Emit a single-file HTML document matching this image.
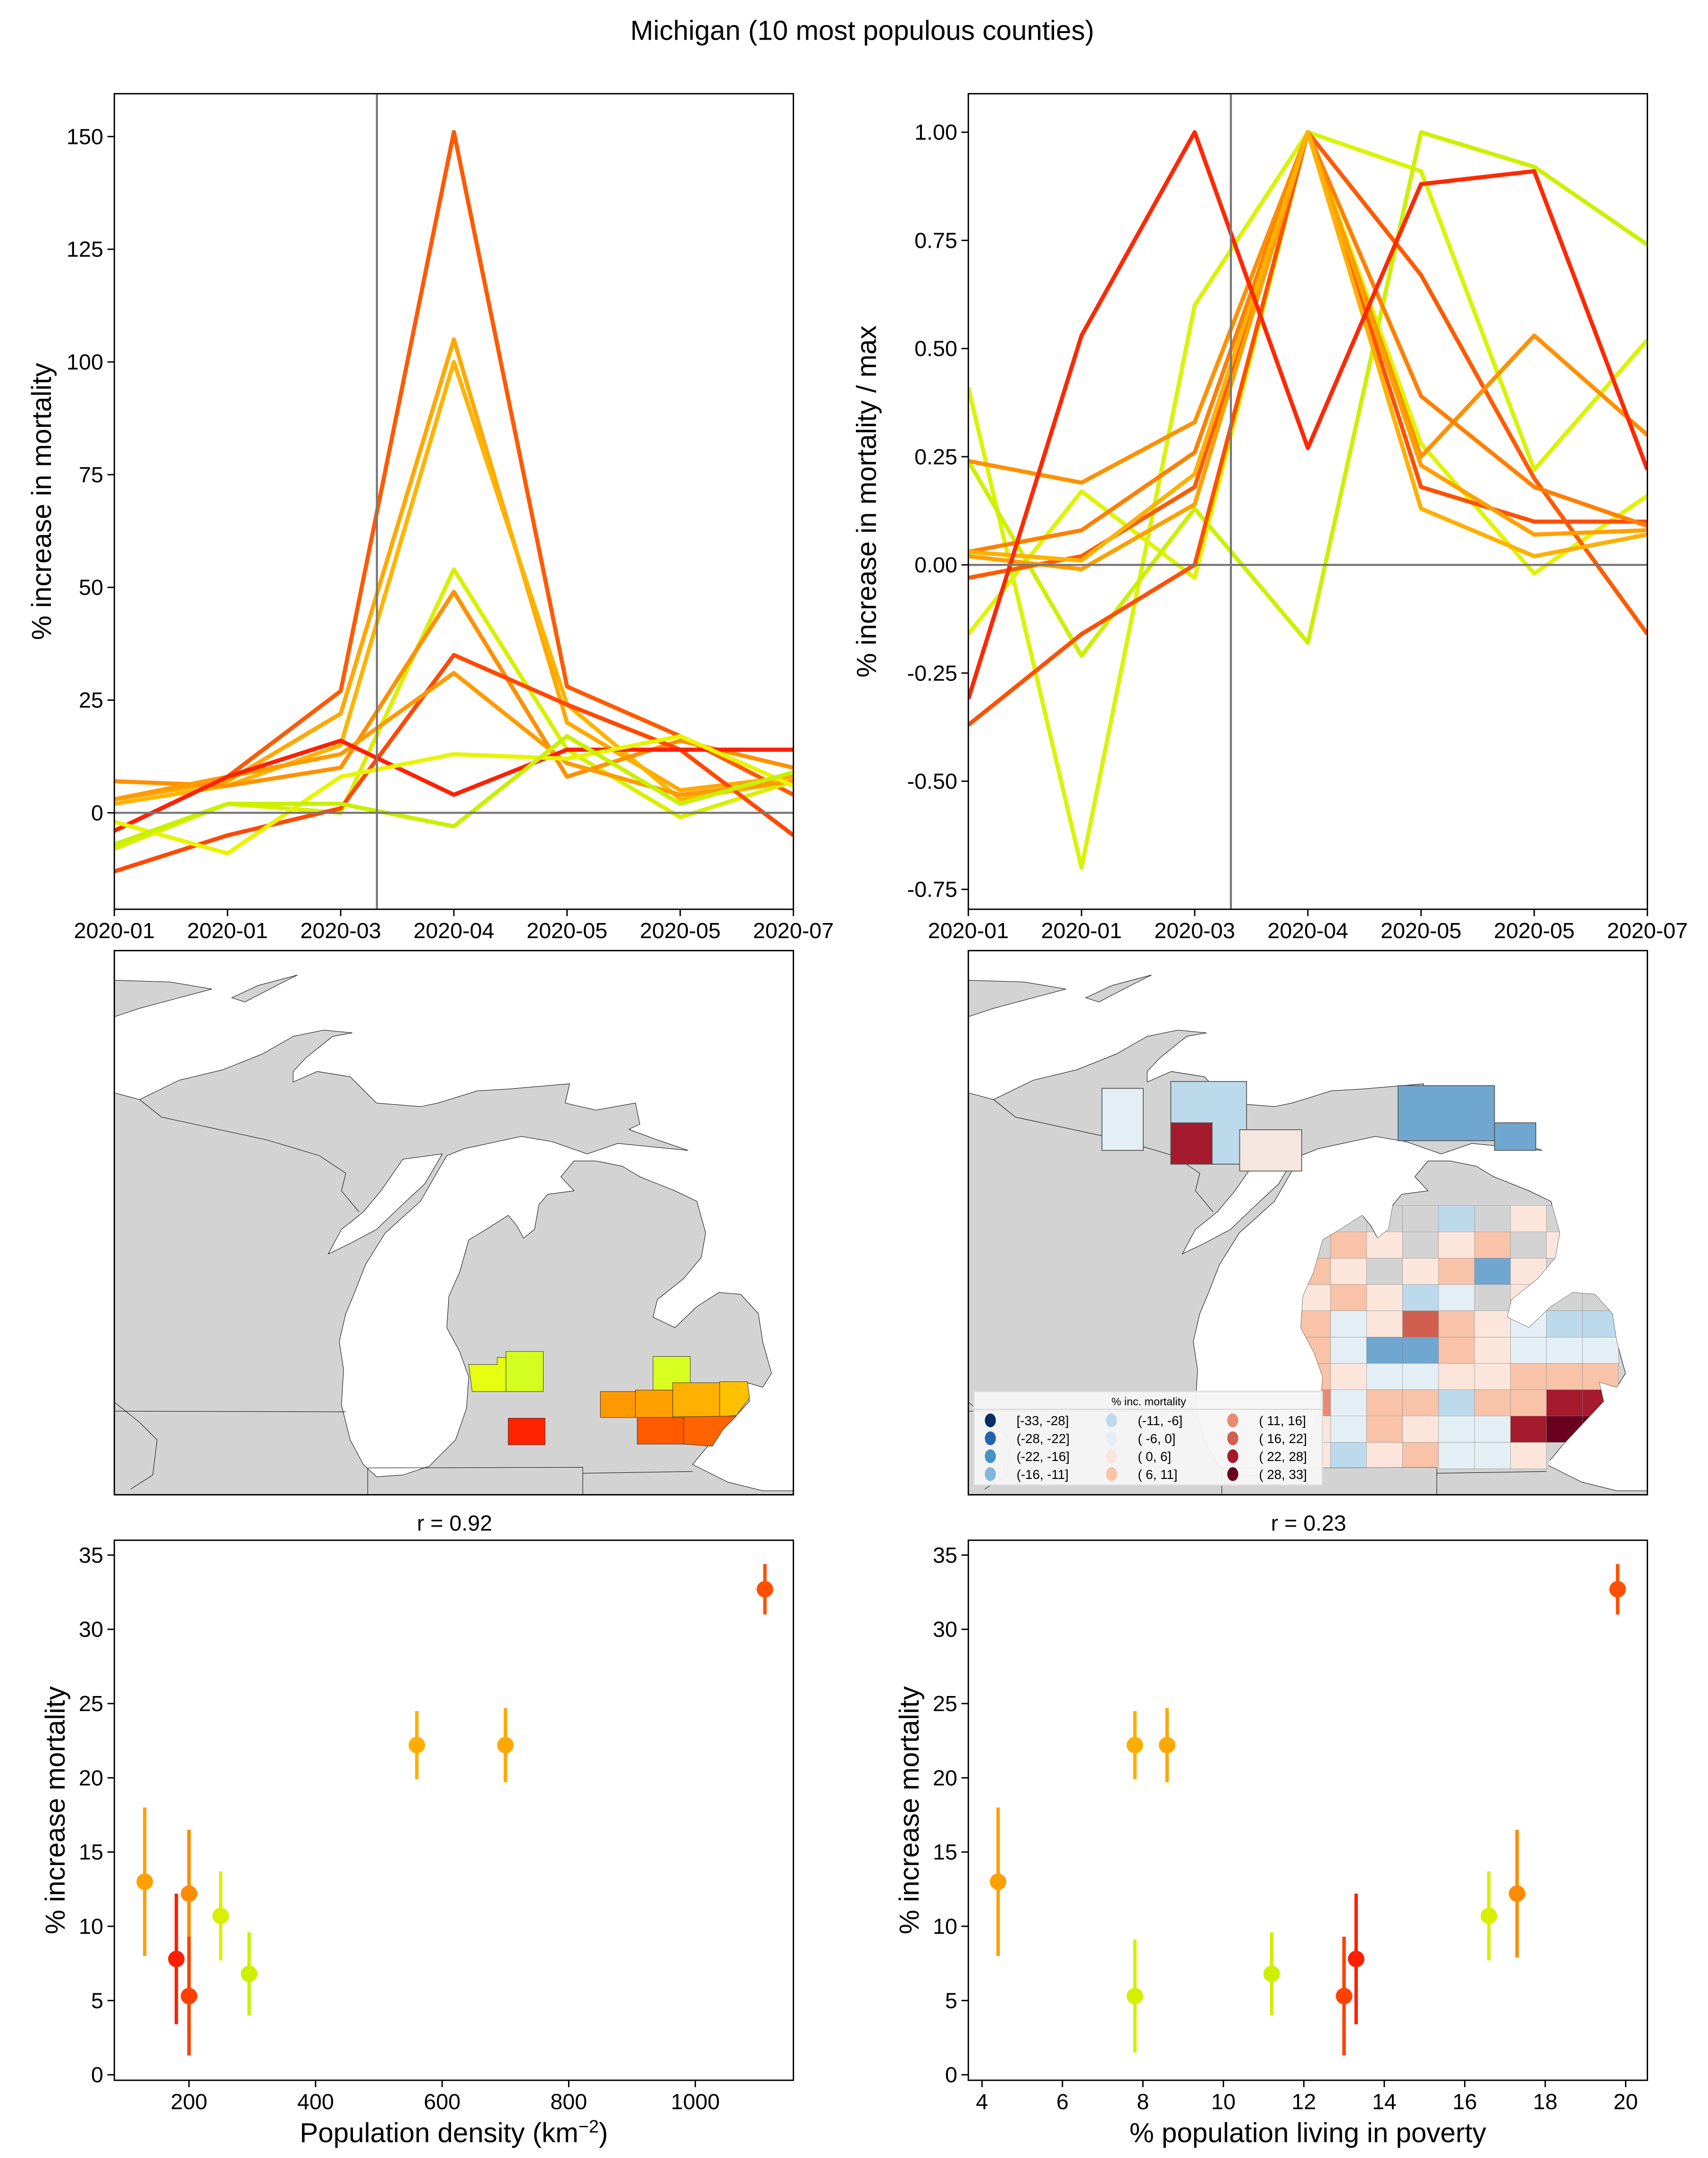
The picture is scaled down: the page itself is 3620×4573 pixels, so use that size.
<!DOCTYPE html>
<html><head><meta charset="utf-8">
<style>
html,body{margin:0;padding:0;background:#fff;}
svg{display:block;font-family:"Liberation Sans","DejaVu Sans",sans-serif;}
</style></head>
<body>
<svg id="root" width="3620" height="4573" viewBox="0 0 1240 1566.4" xmlns="http://www.w3.org/2000/svg">
<rect width="1240" height="1566.4" fill="#fff"/>
<text x="626" y="29" font-size="20" text-anchor="middle">Michigan (10 most populous counties)</text>
<g id="tl"></g>
<g id="tr"></g>
<g id="mapL"></g>
<g id="mapR"></g>
<g id="bl"></g>
<g id="br"></g>
</svg>
<script>
// ---------- data ----------
const dateLabels = ["2020-01","2020-01","2020-03","2020-04","2020-05","2020-05","2020-07"];
const seriesColors = ["#ff5a00","#ffa800","#ffb400","#d8f000","#ff9000","#ff4800","#ff9a00","#ff2000","#e8f400","#c8f000"];
const s1 = [-4, 8, 27, 151, 28, 17, 4];
const s2 = [3, 7, 22, 105, 20, 5, 8];
const s3 = [2, 6, 15, 100, 24, 3, 7];
const s4 = [-8, 2, 0, 54, 14, -1, 7];
const s5 = [7, 6, 10, 49, 8, 16, 10];
const s6 = [-13, -5, 1, 35, 24, 14, -5];
const s7 = [3, 8, 13, 31, 11, 4, 7];
const s8 = [-4, 8, 16, 4, 14, 14, 14];
const s9 = [-2, -9, 8, 13, 12, 17, 6];
const s10 = [-7, 2, 2, -3, 17, 2, 9];
const pctSeries = [s1,s2,s3,s4,s5,s6,s7,s8,s9,s10];
const pctTicks = [0,25,50,75,100,125,150];

const normColors = ["#d8f400","#e0f400","#ccf000","#ff5000","#ff5a00","#ff9000","#ff8000","#ffa000","#ffb000","#ff2800"];
const n1 = [0.41, -0.70, 0.60, 1.0, 0.91, 0.22, 0.52];
const n2 = [-0.16, 0.17, -0.03, 1.0, 0.28, -0.02, 0.16];
const n3 = [0.24, -0.21, 0.13, -0.18, 1.0, 0.92, 0.74];
const n4 = [-0.37, -0.16, 0.0, 1.0, 0.18, 0.10, 0.10];
const n5 = [-0.03, 0.02, 0.18, 1.0, 0.67, 0.20, -0.16];
const n6 = [0.24, 0.19, 0.33, 1.0, 0.25, 0.53, 0.30];
const n7 = [0.03, 0.08, 0.26, 1.0, 0.39, 0.18, 0.09];
const n8 = [0.02, -0.01, 0.14, 1.0, 0.23, 0.07, 0.08];
const n9 = [0.03, 0.01, 0.21, 1.0, 0.13, 0.02, 0.07];
const n10 = [-0.31, 0.53, 1.0, 0.27, 0.88, 0.91, 0.22];
const normSeries = [n1,n2,n3,n4,n5,n6,n7,n8,n9,n10];
const normTicks = [-0.75,-0.5,-0.25,0,0.25,0.5,0.75,1.0];

const density = [130, 180, 200, 200, 200, 250, 295, 560, 700, 1110];
const poverty = [4.4, 13.3, 17.3, 7.8, 13.0, 16.6, 11.2, 7.8, 8.6, 19.8];
const increase = [13, 7.8, 12.2, 5.3, 5.3, 10.7, 6.8, 22.2, 22.2, 32.7];
const incErr = [5, 4.4, 4.3, 3.8, 4.0, 3.0, 2.8, 2.3, 2.5, 1.7];
const pointColors = ["#ffa000","#ff2000","#ff8c00","#d4f000","#ff4000","#d8f000","#ccf000","#ffae00","#ffa800","#ff5000"];
const incTicks = [0,5,10,15,20,25,30,35];
const densTicks = [200,400,600,800,1000];
const povTicks = [4,6,8,10,12,14,16,18,20];

// ---------- helpers ----------
const NS = "http://www.w3.org/2000/svg";
function mk(tag, attrs, parent){ const e=document.createElementNS(NS,tag); for(const k in attrs) e.setAttribute(k,attrs[k]); if(parent) parent.appendChild(e); return e; }
function txt(parent, x, y, s, size, anchor, extra){ const t=mk("text",Object.assign({x:x,y:y,"font-size":size,"text-anchor":anchor||"middle"},extra||{}),parent); t.textContent=s; return t; }

function frame(g, x0, y0, x1, y1){
  const r = mk("rect",{x:x0,y:y0,width:x1-x0,height:y1-y0,fill:"none",stroke:"#000","stroke-width":1},g);
  
  
}
function yTicks(g, ticks, ys, x0, fmt){
  ticks.forEach(v=>{
    const y=ys(v);
    const l=mk("line",{x1:x0-5,x2:x0,y1:y,y2:y,stroke:"#000"},g);
    
    
    const t=txt(g,x0-8,y+5.5,fmt(v),16,"end");
    
    
  });
}
function xTicks(g, ticks, xs, y1, labels){
  ticks.forEach((v,i)=>{
    const x=xs(v,i);
    const l=mk("line",{x1:x,x2:x,y1:y1,y2:y1+5,stroke:"#000"},g);
    
    
    const t=txt(g,x,y1+21,labels?labels[i]:String(v),16,"middle");
    
    
  });
}

// ---------- line charts ----------
function lineChart(id, x0, x1, y0, y1, vmin, vmax, ticks, fmt, series, colors, ylabel, ylx){
  const g=document.getElementById(id);
  const xs=i=>x0+(x1-x0)*i/(dateLabels.length-1);
  const ys=v=>y1-(v-vmin)/(vmax-vmin)*(y1-y0);
  const clip=mk("clipPath",{id:id+"clip"},g);
  mk("rect",{x:x0,y:y0,width:x1-x0,height:y1-y0},clip);
  const pg=mk("g",{"clip-path":"url(#"+id+"clip)"},g);
  series.forEach((s,k)=>{
    const p=mk("polyline",{points:s.map((v,i)=>xs(i)+","+ys(v)).join(" "),fill:"none",stroke:colors[k],"stroke-width":3,"stroke-linejoin":"round"},pg);
    
    
  });
  const hz=mk("line",{x1:x0,x2:x1,y1:ys(0),y2:ys(0),stroke:"#777","stroke-width":1.5},g);
  
  
  const vx=xs(2)+(xs(3)-xs(2))*0.32;
  const vl=mk("line",{x1:vx,x2:vx,y1:y0,y2:y1,stroke:"#777","stroke-width":1.5},g);
  
  
  frame(g,x0,y0,x1,y1);
  yTicks(g,ticks,ys,x0,fmt);
  xTicks(g,dateLabels,(v,i)=>xs(i),y1,dateLabels);
  const yl=txt(g,0,0,ylabel,20,"middle",{transform:"translate("+ylx+","+((y0+y1)/2)+") rotate(-90)"});
  
  
}
lineChart("tl",83,576,68,660,-21.4,159.5,pctTicks,v=>String(v),pctSeries,seriesColors,"% increase in mortality",37);
lineChart("tr",703,1196,68,660,-0.796,1.089,normTicks,v=>v.toFixed(2),normSeries,normColors,"% increase in mortality / max",636);

// ---------- scatter ----------
function scatter(id, x0,x1,y0,y1, xmin,xmax, xv, xt, xlabel, title, titleX){
  const g=document.getElementById(id);
  const xs=v=>x0+(v-xmin)/(xmax-xmin)*(x1-x0);
  const vmin=-0.37, vmax=36.0;
  const ys=v=>y1-(v-vmin)/(vmax-vmin)*(y1-y0);
  frame(g,x0,y0,x1,y1);
  xv.forEach((xvv,i)=>{
    const x=xs(xvv);
    const e=mk("line",{x1:x,x2:x,y1:ys(increase[i]-incErr[i]),y2:ys(increase[i]+incErr[i]),stroke:pointColors[i],"stroke-width":2.5},g);
    
    
    const c=mk("circle",{cx:x,cy:ys(increase[i]),r:6,fill:pointColors[i]},g);
    
    
  });
  yTicks(g,incTicks,ys,x0,v=>String(v));
  xTicks(g,xt,(v)=>xs(v),y1);
  const xl=txt(g,(x0+x1)/2,y1+45,"",20,"middle");
  xl.innerHTML=xlabel;
  
  
  const yl=txt(g,0,0,"% increase mortality",20,"middle",{transform:"translate("+(x0-36)+","+((y0+y1)/2)+") rotate(-90)"});
  
  
  const tt=txt(g,titleX,y0-7,title,16,"middle");
  
  
}
scatter("bl",83,576,1118,1510,82,1155,density,densTicks,'Population density (km<tspan dy="-7" font-size="13">−2</tspan><tspan dy="7">)</tspan>',"r = 0.92",330);
scatter("br",703,1196,1118,1510,3.66,20.54,poverty,povTicks,"% population living in poverty","r = 0.23",950);

// ---------- maps ----------
const waterPts = "0,0 1560,0 1560,1545 1480,1545 1400,1520 1320,1470 1360,1410 1420,1330 1450,1290 1440,1235 1480,1250 1500,1210 1480,1120 1470,1040 1430,985 1380,980 1330,1020 1280,1080 1230,1050 1240,1000 1300,940 1340,880 1350,810 1330,720 1280,690 1200,650 1160,620 1100,605 1050,605 1020,650 1050,690 990,700 970,730 960,800 935,825 920,790 900,760 850,800 810,830 790,920 765,990 760,1080 790,1150 810,1220 805,1310 780,1400 720,1475 660,1500 600,1505 570,1470 540,1400 520,1300 525,1200 515,1120 530,1040 550,980 575,900 620,810 700,720 760,590 800,570 930,535 1000,550 1080,585 1150,555 1310,575 1240,545 1175,515 1200,500 1190,440 1100,460 1030,440 1040,385 900,400 830,405 740,440 700,450 600,440 540,365 465,350 410,380 410,350 440,310 500,250 545,240 480,232 410,250 340,300 250,345 150,375 60,430 0,410 0,195 60,170 150,140 225,115 130,95 0,90";
const greenBay = "490,870 520,800 570,750 610,690 660,600 750,585 710,670 650,740 600,800 540,840";
const isle = "270,140 330,105 420,75 380,100 300,152";
const lpPts = "1100,605 1160,620 1280,690 1330,720 1350,810 1340,880 1300,940 1240,1000 1230,1050 1280,1080 1330,1020 1380,980 1430,985 1470,1040 1480,1120 1500,1210 1480,1250 1440,1235 1450,1290 1420,1330 1360,1410 1330,1450 1320,1488 1070,1495 1070,1478 580,1480 600,1505 660,1500 720,1475 780,1400 805,1310 810,1220 790,1150 760,1080 765,990 790,920 810,830 850,800 900,760 935,825 960,800 970,730 990,700 1050,690 1020,650 1050,605";
const borderLines = ["0,1318 530,1320","580,1480 1070,1478 1070,1560","1070,1495 1320,1490","580,1480 580,1560","60,430 110,480 350,545 470,590 530,640 520,690 560,750","0,1290 60,1350 100,1400 90,1500 40,1540"];

function baseMap(id, dx){
  const g=document.getElementById(id);
  const clip=mk("clipPath",{id:id+"c"},g);
  mk("rect",{x:83+dx,y:690,width:493,height:395},clip);
  const outer=mk("g",{"clip-path":"url(#"+id+"c)"},g);
  mk("rect",{x:83+dx,y:690,width:493,height:395,fill:"#d3d3d3"},outer);
  const m=mk("g",{transform:"translate("+(82.2+dx)+",688.6) scale(0.3186,0.2547)"},outer);
  const w=mk("polygon",{points:waterPts,fill:"#fff",stroke:"#000","stroke-width":1,"vector-effect":"non-scaling-stroke"},m);
  
  
  mk("polygon",{points:greenBay,fill:"#fff",stroke:"#000","stroke-width":1,"vector-effect":"non-scaling-stroke"},m);
  mk("polygon",{points:isle,fill:"#d3d3d3",stroke:"#000","stroke-width":1,"vector-effect":"non-scaling-stroke"},m);
  borderLines.forEach(b=>mk("polyline",{points:b,fill:"none",stroke:"#000","stroke-width":1,"vector-effect":"non-scaling-stroke"},m));
  mk("rect",{x:83+dx,y:690,width:493,height:395,fill:"none",stroke:"#000"},g);
  return m;
}
const topCounties = [
 {p:"810,1185 875,1185 875,1165 895,1165 895,1262 818,1262", c:"#e6ff10"},
 {p:"895,1148 980,1148 980,1262 895,1262", c:"#d4ff20"},
 {p:"900,1338 984,1338 984,1414 900,1414", c:"#ff2200"},
 {p:"1230,1162 1315,1162 1315,1258 1230,1258", c:"#d8ff20"},
 {p:"1110,1262 1190,1262 1190,1336 1110,1336", c:"#ff9900"},
 {p:"1190,1258 1275,1258 1275,1336 1190,1336", c:"#ffa000"},
 {p:"1275,1237 1382,1237 1382,1334 1275,1334", c:"#ffb000"},
 {p:"1382,1234 1445,1234 1450,1280 1420,1330 1382,1334", c:"#ffc000"},
 {p:"1194,1336 1300,1336 1300,1412 1194,1412", c:"#ff5a00"},
 {p:"1300,1334 1420,1332 1390,1370 1365,1418 1300,1412", c:"#ff6400"}
];
const mL=baseMap("mapL",0);
topCounties.forEach(cn=>{
  const p=mk("polygon",{points:cn.p,fill:cn.c,stroke:"#333","stroke-width":1,"vector-effect":"non-scaling-stroke"},mL);
  
  
});

const pal = {g:"#d3d3d3",L:"#bcdaeb",W:"#e4eef5",P:"#fce6dc",S:"#f8c3a8",O:"#e9896f",D:"#d15f4f",R:"#a51a2c",M:"#69001f",B:"#6fa7d0"};
const countyRows = ["ggggLgPgg","gSPgPSgPg","SPgPSBPgg","PSPLWgPgg","SWPDSPWLL","SWBBSPWWW","SPWWPPSSS","OWSSLSSRR","PWSPWWRMM","PLPSWWPgg"];
const mR=baseMap("mapR",620);
const lpClip=mk("clipPath",{id:"lpc"},mR);
mk("polygon",{points:lpPts},lpClip);
const cg=mk("g",{"clip-path":"url(#lpc)"},mR);
countyRows.forEach((row,r)=>{
  [...row].forEach((ch,c)=>{
    const rc=mk("rect",{x:746+c*82,y:732+r*75,width:82,height:75,fill:pal[ch],stroke:"#888","stroke-width":0.6,"vector-effect":"non-scaling-stroke"},cg);
    
    
  });
});
const gR=document.getElementById("mapR");
const upCounties=[[800,790,30,45,"#e4eef5"],[850,785,55,60,"#bcdaeb"],[850,815,30,30,"#a51a2c"],[900,820,45,30,"#f5e6e0"],[1015,788,70,40,"#6fa7d0"],[1085,815,30,20,"#6fa7d0"]];
upCounties.forEach(u=>{
  const r=mk("rect",{x:u[0],y:u[1],width:u[2],height:u[3],fill:u[4],stroke:"#555","stroke-width":0.6},gR);
  
  
});
const legendLabels=["[-33, -28]","(-28, -22]","(-22, -16]","(-16, -11]","(-11,  -6]","( -6,   0]","(  0,   6]","(  6,  11]","( 11,  16]","( 16,  22]","( 22,  28]","( 28,  33]"];
const legendColors=["#053061","#2166ac","#4393c3","#7fb8da","#bcdaeb","#e4eef5","#fce6dc","#f8c3a8","#e9896f","#d15f4f","#a51a2c","#69001f"];
const lg=mk("g",{},gR);


mk("rect",{x:707,y:1010,width:253,height:68,fill:"#f5f5f5","fill-opacity":0.95,stroke:"#ddd"},lg);
txt(lg,834,1020,"% inc. mortality",8,"middle");
mk("line",{x1:707,x2:960,y1:1023,y2:1023,stroke:"#ddd"},lg);
legendLabels.forEach((lab,i)=>{
  const col=Math.floor(i/4), row=i%4;
  const cx=719+col*88, cy=1031+row*13;
  const d=mk("ellipse",{cx:cx,cy:cy,rx:4,ry:5,fill:legendColors[i]},lg);
  
  
  const t=txt(lg,cx+19,cy+3.5,lab,9.5,"start",{"xml:space":"preserve"});
  
  
});
</script>
</body></html>
